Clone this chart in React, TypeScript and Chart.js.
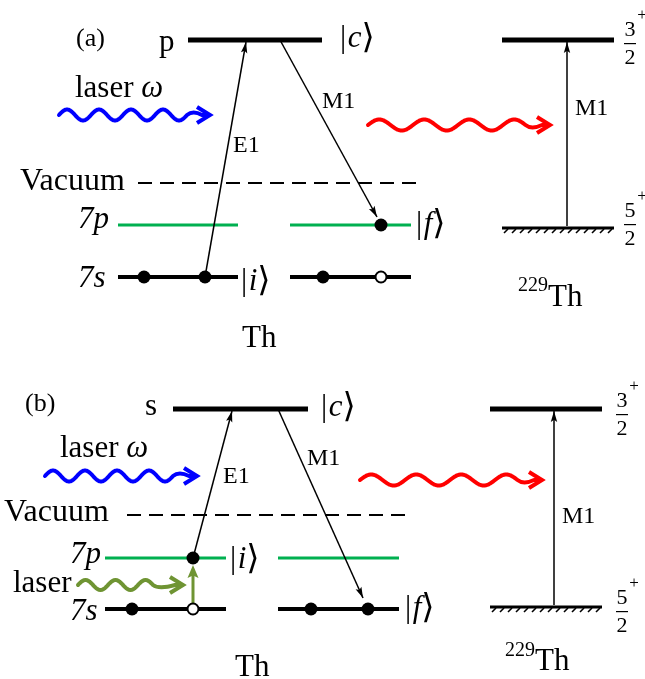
import React, { useEffect, useRef } from "react";
import { Chart, registerables } from "chart.js";

Chart.register(...registerables);

const W = 645;
const H = 679;

// Level segments: [xStart, xEnd, y]
const upperLevels = [[188, 322, 40], [173, 308, 409], [502, 614, 40], [490, 602, 409]];
const sLevels = [[118, 238, 277], [290, 411, 277], [105, 226, 609], [278, 399, 609]];
const pLevels = [[118, 238, 225], [290, 411, 225], [105, 226, 558], [278, 399, 558]];
const nuclearGround = [[502, 614, 228], [490, 602, 607]];
const vacuumLines = [[138, 418, 183], [127, 405, 515]];

// Electrons: [x, y]
const filledElectrons = [[144, 277], [205, 277], [323, 277], [381, 225], [132, 609], [193, 558], [311, 609], [368, 609]];
const holes = [[381, 277], [193, 609]];

// Transition arrows: [xFrom, yFrom, xTo, yTo]
const transitions = [
  [205, 277, 246, 42], [280, 40, 377, 217], [567, 226, 567, 42],
  [193, 558, 232, 411], [278, 409, 363, 598], [554, 605, 554, 411],
];
const pumpArrows = [[193, 603, 193, 565]];

// Photons: [xStart, xTip, y, period, amplitude]
const bluePhotons = [[59, 210, 115, 32, 5.5], [45, 197, 476, 32, 5.5]];
const redPhotons = [[368, 550, 125, 45, 5.5], [360, 542, 480, 45, 5.5]];
const olivePhotons = [[78, 183, 585, 30, 5]];

// Spin-parity fractions: [numerator, denominator, xCenter, barY]
const spinFractions = [["3", "2", 630, 43], ["5", "2", 630, 224], ["3", "2", 622, 414], ["5", "2", 622, 611]];

type Run = { t: string; it?: boolean; size?: number; dy?: number };
// Text items: [runs, left, baseline, size]
const ket = (s: string): Run[] => [{ t: "|" }, { t: " ", size: 6 }, { t: s, it: true }, { t: "⟩", size: 34, dy: 1 }];
const textItems: [Run[], number, number, number][] = [
  [[{ t: "(a)" }], 76, 46, 26],
  [[{ t: "p" }], 159, 51, 31],
  [ket("c"), 340, 47, 31],
  [[{ t: "laser " }, { t: "ω", it: true }], 75, 97, 31],
  [[{ t: "E1" }], 233, 152, 24],
  [[{ t: "M1" }], 322, 108, 24],
  [[{ t: "Vacuum" }], 20, 190, 32],
  [[{ t: "7", it: true }, { t: "p", it: true }], 78, 228, 31],
  [[{ t: "7", it: true }, { t: "s", it: true }], 78, 287, 31],
  [ket("i"), 241, 290, 31],
  [ket("f"), 416, 233, 31],
  [[{ t: "Th" }], 242, 347, 31],
  [[{ t: "M1" }], 575, 115, 24],
  [[{ t: "229", size: 20, dy: -15 }, { t: "Th" }], 518, 306, 31],
  [[{ t: "(b)" }], 25, 411, 26],
  [[{ t: "s" }], 145, 415, 31],
  [ket("c"), 321, 416, 31],
  [[{ t: "laser " }, { t: "ω", it: true }], 60, 457, 31],
  [[{ t: "E1" }], 223, 483, 24],
  [[{ t: "M1" }], 307, 465, 24],
  [[{ t: "Vacuum" }], 4, 521, 32],
  [[{ t: "7", it: true }, { t: "p", it: true }], 70, 563, 31],
  [ket("i"), 230, 568, 31],
  [[{ t: "laser" }], 13, 592, 31],
  [[{ t: "7", it: true }, { t: "s", it: true }], 70, 620, 31],
  [ket("f"), 405, 617, 31],
  [[{ t: "Th" }], 235, 676, 31],
  [[{ t: "M1" }], 562, 523, 24],
  [[{ t: "229", size: 20, dy: -14 }, { t: "Th" }], 505, 670, 31],
];

const BLUE = "#0000ff";
const RED = "#ff0000";
const OLIVE = "#6f9433";
const GREEN = "#00b050";
const FONT = '"Liberation Serif", "DejaVu Serif", "DejaVu Sans", serif';

function segment(x1: number, x2: number, y: number, color: string, width: number, order: number, dash: number[] = []) {
  return {
    data: [{ x: x1, y }, { x: x2, y }],
    showLine: true,
    borderColor: color,
    borderWidth: width,
    borderDash: dash,
    borderCapStyle: "butt",
    pointRadius: 0,
    order,
  };
}

function drawRuns(ctx: CanvasRenderingContext2D, x: number, y: number, runs: Run[], size: number) {
  let cx = x;
  for (const r of runs) {
    ctx.font = `${r.it ? "italic " : ""}${r.size ?? size}px ${FONT}`;
    ctx.fillText(r.t, cx, y + (r.dy ?? 0));
    cx += ctx.measureText(r.t).width;
  }
}

function arrowHead(ctx: CanvasRenderingContext2D, x1: number, y1: number, x2: number, y2: number, len: number, half: number, color: string) {
  const a = Math.atan2(y2 - y1, x2 - x1);
  ctx.save();
  ctx.fillStyle = color;
  ctx.beginPath();
  ctx.moveTo(x2, y2);
  ctx.lineTo(x2 - len * Math.cos(a) + half * Math.sin(a), y2 - len * Math.sin(a) - half * Math.cos(a));
  ctx.lineTo(x2 - len * 0.8 * Math.cos(a), y2 - len * 0.8 * Math.sin(a));
  ctx.lineTo(x2 - len * Math.cos(a) - half * Math.sin(a), y2 - len * Math.sin(a) + half * Math.cos(a));
  ctx.closePath();
  ctx.fill();
  ctx.restore();
}

function photon(ctx: CanvasRenderingContext2D, x1: number, tip: number, yc: number, period: number, amp: number, color: string) {
  const halfP = period / 2;
  const n = Math.floor((tip - 22 - x1) / halfP);
  const xe = x1 + n * halfP;
  ctx.save();
  ctx.strokeStyle = color;
  ctx.lineWidth = 4;
  ctx.lineCap = "round";
  ctx.lineJoin = "round";
  ctx.beginPath();
  for (let px = x1; px <= xe; px += 0.5) {
    const yy = yc - amp * Math.sin((2 * Math.PI * (px - x1)) / period);
    if (px === x1) ctx.moveTo(px, yy);
    else ctx.lineTo(px, yy);
  }
  const dir = n % 2 === 0 ? -1 : 1;
  ctx.quadraticCurveTo(xe + 6, yc + dir * amp * 0.9, tip - 8, yc);
  ctx.lineTo(tip - 1, yc);
  ctx.stroke();
  ctx.lineCap = "butt";
  ctx.lineJoin = "miter";
  ctx.beginPath();
  ctx.moveTo(tip - 13, yc - 8);
  ctx.lineTo(tip, yc);
  ctx.lineTo(tip - 13, yc + 8);
  ctx.stroke();
  ctx.restore();
}

const diagramPlugin = {
  id: "levelDiagram",
  afterDatasetsDraw(chart: any) {
    const { ctx } = chart;
    const sx = chart.scales.x;
    const sy = chart.scales.y;
    const X = (v: number) => sx.getPixelForValue(v);
    const Y = (v: number) => sy.getPixelForValue(v);

    // hatching under nuclear ground levels
    ctx.save();
    ctx.strokeStyle = "#000";
    ctx.lineWidth = 1.6;
    for (const [a, b, lv] of nuclearGround) {
      for (let hx = a + 6; hx <= b; hx += 8) {
        ctx.beginPath();
        ctx.moveTo(X(hx), Y(lv) + 1);
        ctx.lineTo(X(hx) - 4, Y(lv) + 5);
        ctx.stroke();
      }
    }
    ctx.restore();

    for (const [x1, y1, x2, y2] of transitions) {
      arrowHead(ctx, X(x1), Y(y1), X(x2), Y(y2), 11, 3.2, "#000");
    }
    for (const [x1, y1, x2, y2] of pumpArrows) {
      arrowHead(ctx, X(x1), Y(y1), X(x2), Y(y2), 13, 5.5, OLIVE);
    }

    for (const [a, tip, yc, p, am] of bluePhotons) photon(ctx, X(a), X(tip), Y(yc), p, am, BLUE);
    for (const [a, tip, yc, p, am] of redPhotons) photon(ctx, X(a), X(tip), Y(yc), p, am, RED);
    for (const [a, tip, yc, p, am] of olivePhotons) photon(ctx, X(a), X(tip), Y(yc), p, am, OLIVE);

    ctx.save();
    ctx.fillStyle = "#000";
    ctx.textBaseline = "alphabetic";
    ctx.textAlign = "left";
    for (const [runs, lx, by, size] of textItems) drawRuns(ctx, X(lx), Y(by), runs, size);

    // J^pi fractions
    ctx.textAlign = "center";
    ctx.textBaseline = "middle";
    for (const [num, den, cx, by] of spinFractions as [string, string, number, number][]) {
      ctx.font = `22px ${FONT}`;
      ctx.fillText(num, X(cx), Y(by) - 13);
      ctx.fillText(den, X(cx), Y(by) + 15);
      ctx.fillRect(X(cx) - 6, Y(by), 12, 1.2);
      ctx.font = `17px ${FONT}`;
      ctx.fillText("+", X(cx) + 12, Y(by) - 27);
    }
    ctx.restore();
  },
};

export default function App() {
  const ref = useRef<HTMLCanvasElement | null>(null);

  useEffect(() => {
    document.body.style.margin = "0";
    const canvas = ref.current;
    if (!canvas) return;

    const datasets: any[] = [];
    datasets.push({
      data: filledElectrons.map(([x, y]) => ({ x, y })),
      pointRadius: 6.5,
      pointBackgroundColor: "#000",
      pointBorderWidth: 0,
      showLine: false,
      order: 0,
    });
    datasets.push({
      data: holes.map(([x, y]) => ({ x, y })),
      pointRadius: 5.5,
      pointBackgroundColor: "#fff",
      pointBorderColor: "#000",
      pointBorderWidth: 2,
      showLine: false,
      order: 0,
    });
    for (const [x1, y1, x2, y2] of transitions) {
      datasets.push({
        data: [{ x: x1, y: y1 }, { x: x2, y: y2 }],
        showLine: true,
        borderColor: "#000",
        borderWidth: 1.5,
        pointRadius: 0,
        order: 1,
      });
    }
    for (const [x1, y1, x2, y2] of pumpArrows) {
      datasets.push({
        data: [{ x: x1, y: y1 }, { x: x2, y: y2 + 8 }],
        showLine: true,
        borderColor: OLIVE,
        borderWidth: 3,
        pointRadius: 0,
        order: 1,
      });
    }
    for (const [a, b, y] of upperLevels) datasets.push(segment(a, b, y, "#000", 5, 2));
    for (const [a, b, y] of sLevels) datasets.push(segment(a, b, y, "#000", 4, 2));
    for (const [a, b, y] of pLevels) datasets.push(segment(a, b, y, GREEN, 3, 2));
    for (const [a, b, y] of nuclearGround) datasets.push(segment(a, b, y, "#000", 3, 2));
    for (const [a, b, y] of vacuumLines) datasets.push(segment(a, b, y, "#000", 2, 2, [14, 8]));

    const chart = new Chart(canvas, {
      type: "scatter",
      data: { datasets },
      options: {
        animation: false,
        responsive: false,
        devicePixelRatio: 1,
        layout: { padding: 0, autoPadding: false },
        plugins: { legend: { display: false }, tooltip: { enabled: false } },
        scales: {
          x: { type: "linear", min: 0, max: W, display: false },
          y: { type: "linear", min: 0, max: H, reverse: true, display: false },
        },
      },
      plugins: [diagramPlugin],
    } as any);

    return () => chart.destroy();
  }, []);

  return (
    <div style={{ width: W, height: H, background: "#fff" }}>
      <canvas ref={ref} width={W} height={H} style={{ display: "block" }} />
    </div>
  );
}
